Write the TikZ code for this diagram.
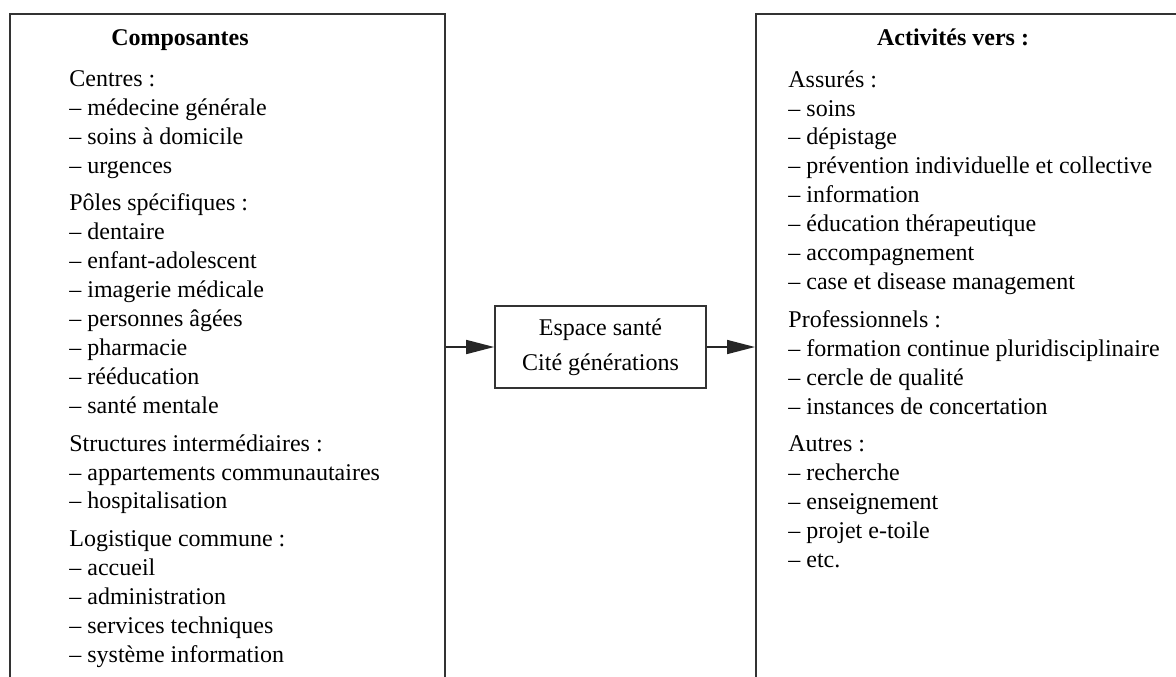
\documentclass[tikz,border=0pt]{standalone}
\usepackage{fontspec}
\setmainfont{Liberation Serif}
\usetikzlibrary{arrows.meta}
\usetikzlibrary{positioning}
\tikzset{panel/.style = {draw=black!80, line width=0.8pt, inner sep=0, anchor=north west}}
\tikzset{heading/.style = {anchor=base, inner sep=0, font=\bfseries\fontsize{12}{14.45}\selectfont}}
\tikzset{itemlist/.style = {align=left, inner sep=0, anchor=north west, font=\fontsize{12}{14.45}\selectfont}}
\tikzset{flow/.style = {-{Triangle[length=14pt,width=7pt]}, draw=black!85, line width=0.8pt}}

\begin{document}
\begin{tikzpicture}[x=0.5pt,y=-0.5pt]
        \useasboundingbox (0,0) rectangle (1176,676);
        % the two open panels
        \node[panel, minimum width=217.5pt, minimum height=360pt] (compo) at (9,13) {};
        \node[panel, minimum width=240pt, minimum height=360pt] (activ) at (755,13) {};
        \node[heading] (compotitle) at (180,45) {Composantes};
        \node[heading] (activtitle) at (953,45) {Activités vers :};
        \node[itemlist] (compolist) at (69,70) {Centres :\\
            – médecine générale\\
            – soins à domicile\\
            – urgences\\[4.5pt]
            Pôles spécifiques :\\
            – dentaire\\
            – enfant-adolescent\\
            – imagerie médicale\\
            – personnes âgées\\
            – pharmacie\\
            – rééducation\\
            – santé mentale\\[4.5pt]
            Structures intermédiaires :\\
            – appartements communautaires\\
            – hospitalisation\\[4.5pt]
            Logistique commune :\\
            – accueil\\
            – administration\\
            – services techniques\\
            – système information};
        \node[itemlist] (activlist) at (788,70) {Assurés :\\
            – soins\\
            – dépistage\\
            – prévention individuelle et collective\\
            – information\\
            – éducation thérapeutique\\
            – accompagnement\\
            – case et disease management\\[4.5pt]
            Professionnels :\\
            – formation continue pluridisciplinaire\\
            – cercle de qualité\\
            – instances de concertation\\[4.5pt]
            Autres :\\
            – recherche\\
            – enseignement\\
            – projet e-toile\\
            – etc.};
        % central box
        \node[draw=black!80, line width=0.8pt, align=center, minimum width=105.5pt, minimum height=41pt,
            font=\fontsize{12}{14.45}\selectfont] (espace) at (600.5,347) {Espace santé\\[3pt]Cité générations};
        \draw[flow] (compo.east |- espace.west) -- (espace.west);
        \draw[flow] (espace.east) -- (espace.east -| activ.west);
    \end{tikzpicture}
\end{document}
